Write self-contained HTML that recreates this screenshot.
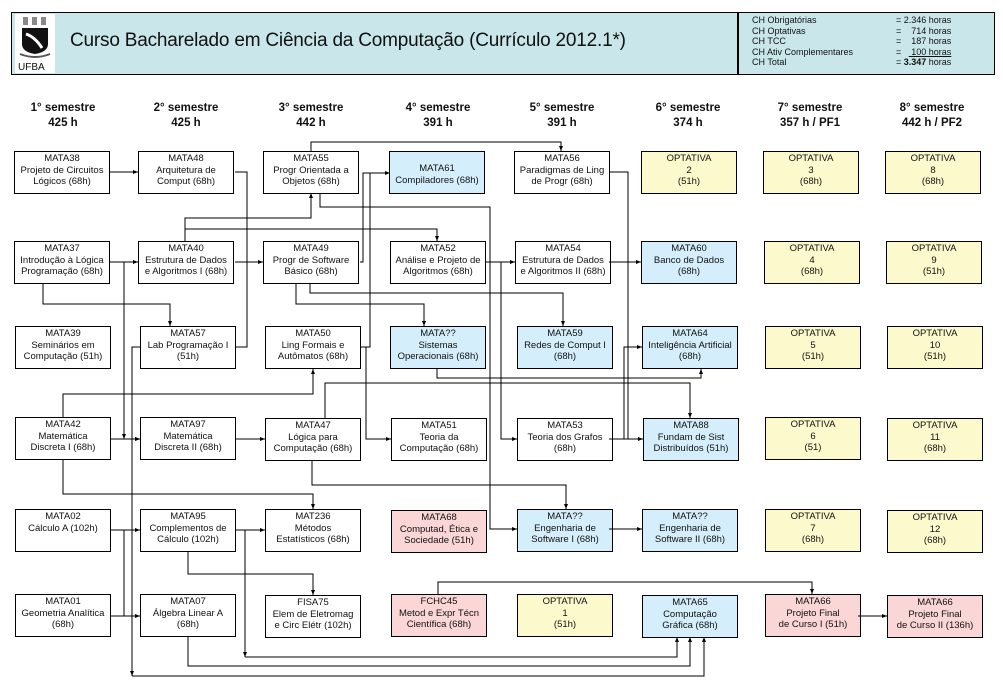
<!DOCTYPE html>
<html><head><meta charset="utf-8">
<style>
*{margin:0;padding:0;box-sizing:border-box}
body{width:1003px;height:689px;background:#fff;position:relative;overflow:hidden;font-family:"Liberation Sans",Arial,sans-serif;color:#111}
.hdr{position:absolute;left:11px;top:12px;width:984px;height:63px;background:#c9e6ea;border:1.5px solid #000}
.logo{position:absolute;left:15px;top:14px;width:40px;height:59px;background:#fff}
.title{position:absolute;left:70px;top:30px;font-size:19px;letter-spacing:-0.2px}
.div{position:absolute;left:737px;top:12px;width:1.5px;height:63px;background:#000}
.ch{position:absolute;font-size:9px;line-height:10.5px}
.sem{position:absolute;top:101px;width:110px;text-align:center;font-weight:bold;font-size:11.5px;line-height:15px}
.b{position:absolute;width:96px;height:43px;border:1.3px solid #000;background:#fff;text-align:center;font-size:9.5px;line-height:11.5px;padding-top:1px}
.bl{background:#d4effb}.y{background:#fcf9cc}.p{background:#fbd6d6}
svg{position:absolute;left:0;top:0}
</style></head><body>
<div class="hdr"></div>
<div class="logo">
<svg width="40" height="59" viewBox="0 0 40 59" style="position:absolute;left:0;top:0">
<path d="M8 3h5v8H8zM17 3h5v8h-5zM26 3h5v8h-5z" fill="#888"/>
<path d="M7 14h26v16q0 8-13 10Q7 38 7 30z" fill="#111"/>
<path d="M11 20q9 3 16 14" stroke="#fff" stroke-width="3" fill="none"/>
<path d="M5 40q15 6 30 0" stroke="#555" stroke-width="2" fill="none"/>
<text x="3" y="56" font-size="10" font-family="Liberation Sans" fill="#111">UFBA</text>
</svg></div>
<div class="title">Curso Bacharelado em Ciência da Computação (Currículo 2012.1*)</div>
<div class="div"></div>
<div class="ch" style="left:752px;top:15px">CH Obrigatórias<br>CH Optativas<br>CH TCC<br>CH Ativ Complementares<br>CH Total</div>
<div class="ch" style="left:896px;top:15px">= 2.346 horas<br>=&nbsp;&nbsp;&nbsp;&nbsp;714 horas<br>=&nbsp;&nbsp;&nbsp;&nbsp;187 horas<br>=&nbsp;&nbsp;&nbsp;<u>&nbsp;100 horas</u><br>= <b>3.347</b> horas</div>

<div class="sem" style="left:8px">1° semestre<br>425 h</div>
<div class="sem" style="left:131px">2° semestre<br>425 h</div>
<div class="sem" style="left:256px">3° semestre<br>442 h</div>
<div class="sem" style="left:383px">4° semestre<br>391 h</div>
<div class="sem" style="left:507px">5° semestre<br>391 h</div>
<div class="sem" style="left:633px">6° semestre<br>374 h</div>
<div class="sem" style="left:755px">7° semestre<br>357 h / PF1</div>
<div class="sem" style="left:877px">8° semestre<br>442 h / PF2</div>

<div class="b" style="left:14px;top:151px">MATA38<br>Projeto de Circuitos<br>Lógicos (68h)</div>
<div class="b" style="left:138px;top:151px">MATA48<br>Arquitetura de<br>Comput (68h)</div>
<div class="b" style="left:263px;top:151px">MATA55<br>Progr Orientada a<br>Objetos (68h)</div>
<div class="b bl" style="left:389px;top:151px;padding-top:11px">MATA61<br>Compiladores (68h)</div>
<div class="b" style="left:514px;top:151px">MATA56<br>Paradigmas de Ling<br>de Progr (68h)</div>
<div class="b y" style="left:641px;top:151px">OPTATIVA<br>2<br>(51h)</div>
<div class="b y" style="left:763px;top:151px">OPTATIVA<br>3<br>(68h)</div>
<div class="b y" style="left:885px;top:151px">OPTATIVA<br>8<br>(68h)</div>
<div class="b" style="left:14px;top:241px">MATA37<br>Introdução à Lógica<br>Programação (68h)</div>
<div class="b" style="left:138px;top:241px">MATA40<br>Estrutura de Dados<br>e Algoritmos I (68h)</div>
<div class="b" style="left:263px;top:241px">MATA49<br>Progr de Software<br>Básico (68h)</div>
<div class="b" style="left:390px;top:241px">MATA52<br>Análise e Projeto de<br>Algoritmos (68h)</div>
<div class="b" style="left:515px;top:241px">MATA54<br>Estrutura de Dados<br>e Algoritmos II (68h)</div>
<div class="b bl" style="left:641px;top:241px">MATA60<br>Banco de Dados<br>(68h)</div>
<div class="b y" style="left:764px;top:241px">OPTATIVA<br>4<br>(68h)</div>
<div class="b y" style="left:886px;top:241px">OPTATIVA<br>9<br>(51h)</div>
<div class="b" style="left:15px;top:326px">MATA39<br>Seminários em<br>Computação (51h)</div>
<div class="b" style="left:140px;top:326px">MATA57<br>Lab Programação I<br>(51h)</div>
<div class="b" style="left:265px;top:326px">MATA50<br>Ling Formais e<br>Autômatos (68h)</div>
<div class="b bl" style="left:390px;top:326px">MATA??<br>Sistemas<br>Operacionais (68h)</div>
<div class="b bl" style="left:517px;top:326px">MATA59<br>Redes de Comput I<br>(68h)</div>
<div class="b bl" style="left:642px;top:326px">MATA64<br>Inteligência Artificial<br>(68h)</div>
<div class="b y" style="left:765px;top:326px">OPTATIVA<br>5<br>(51h)</div>
<div class="b y" style="left:887px;top:326px">OPTATIVA<br>10<br>(51h)</div>
<div class="b" style="left:15px;top:417px">MATA42<br>Matemática<br>Discreta I (68h)</div>
<div class="b" style="left:140px;top:417px">MATA97<br>Matemática<br>Discreta II (68h)</div>
<div class="b" style="left:265px;top:418px">MATA47<br>Lógica para<br>Computação (68h)</div>
<div class="b" style="left:391px;top:418px">MATA51<br>Teoria da<br>Computação (68h)</div>
<div class="b" style="left:517px;top:418px">MATA53<br>Teoria dos Grafos<br>(68h)</div>
<div class="b bl" style="left:643px;top:418px">MATA88<br>Fundam de Sist<br>Distribuídos (51h)</div>
<div class="b y" style="left:765px;top:417px">OPTATIVA<br>6<br>(51)</div>
<div class="b y" style="left:887px;top:418px">OPTATIVA<br>11<br>(68h)</div>
<div class="b" style="left:15px;top:509px">MATA02<br>Cálculo A (102h)</div>
<div class="b" style="left:140px;top:509px">MATA95<br>Complementos de<br>Cálculo (102h)</div>
<div class="b" style="left:265px;top:509px">MAT236<br>Métodos<br>Estatísticos (68h)</div>
<div class="b p" style="left:391px;top:510px">MATA68<br>Computad, Ética e<br>Sociedade (51h)</div>
<div class="b bl" style="left:517px;top:509px">MATA??<br>Engenharia de<br>Software I (68h)</div>
<div class="b bl" style="left:642px;top:509px">MATA??<br>Engenharia de<br>Software II (68h)</div>
<div class="b y" style="left:765px;top:509px">OPTATIVA<br>7<br>(68h)</div>
<div class="b y" style="left:887px;top:510px">OPTATIVA<br>12<br>(68h)</div>
<div class="b" style="left:15px;top:594px">MATA01<br>Geometria Analítica<br>(68h)</div>
<div class="b" style="left:140px;top:594px">MATA07<br>Álgebra Linear A<br>(68h)</div>
<div class="b" style="left:265px;top:595px">FISA75<br>Elem de Eletromag<br>e Circ Elétr (102h)</div>
<div class="b p" style="left:391px;top:594px">FCHC45<br>Metod e Expr Técn<br>Científica (68h)</div>
<div class="b y" style="left:517px;top:594px">OPTATIVA<br>1<br>(51h)</div>
<div class="b bl" style="left:642px;top:595px">MATA65<br>Computação<br>Gráfica (68h)</div>
<div class="b p" style="left:765px;top:594px">MATA66<br>Projeto Final<br>de Curso I (51h)</div>
<div class="b p" style="left:887px;top:595px">MATA66<br>Projeto Final<br>de Curso II (136h)</div>

<svg width="1003" height="689" viewBox="0 0 1003 689">
<defs><marker id="a" markerWidth="6" markerHeight="6" refX="5" refY="3" orient="auto" markerUnits="userSpaceOnUse"><path d="M0 1L5 3L0 5z" fill="#000"/></marker></defs>
<g stroke="#000" stroke-width="1" fill="none" marker-end="url(#a)">
<path d="M110 172H138"/>
<path d="M235 172H247V347H235" marker-end="none"/>
<path d="M235 262H263"/>
<path d="M110 262H138"/>
<path d="M124 262V439"/>
<path d="M124 439H140"/>
<path d="M43 284V304H170V326"/>
<path d="M185 241V218H311V193"/>
<path d="M185 229H437V241"/>
<path d="M311 151V142H561V151"/>
<path d="M320 193V207H490V529H517"/>
<path d="M360 262H363V173H390"/>
<path d="M360 347H370V173" marker-end="none"/>
<path d="M366 347V439H391"/>
<path d="M310 284V293H563V326"/>
<path d="M296 284V304H424V326"/>
<path d="M486 262H515"/>
<path d="M501 262V439H517"/>
<path d="M609 262H641"/>
<path d="M609 172H628V439" marker-end="none"/>
<path d="M609 439H643"/>
<path d="M624 439V347H642"/>
<path d="M437 369V378H701V369"/>
<path d="M325 418V383H690V418"/>
<path d="M63 417V394H313V369"/>
<path d="M110 439H140"/>
<path d="M235 439H265"/>
<path d="M63 460V494H313V509"/>
<path d="M312 460V485H566V509"/>
<path d="M110 530H140"/>
<path d="M110 616H140"/>
<path d="M124 530V616" marker-end="none"/>
<path d="M140 347H132V676"/>
<path d="M132 676H704V637"/>
<path d="M235 530H265"/>
<path d="M245 530V657"/>
<path d="M245 657H677V637"/>
<path d="M188 552V574H313V595"/>
<path d="M188 637V666H690V637"/>
<path d="M438 594V582H812V594"/>
<path d="M609 529H642"/>
<path d="M858 616H887"/>
</g>
</svg>
</body></html>
